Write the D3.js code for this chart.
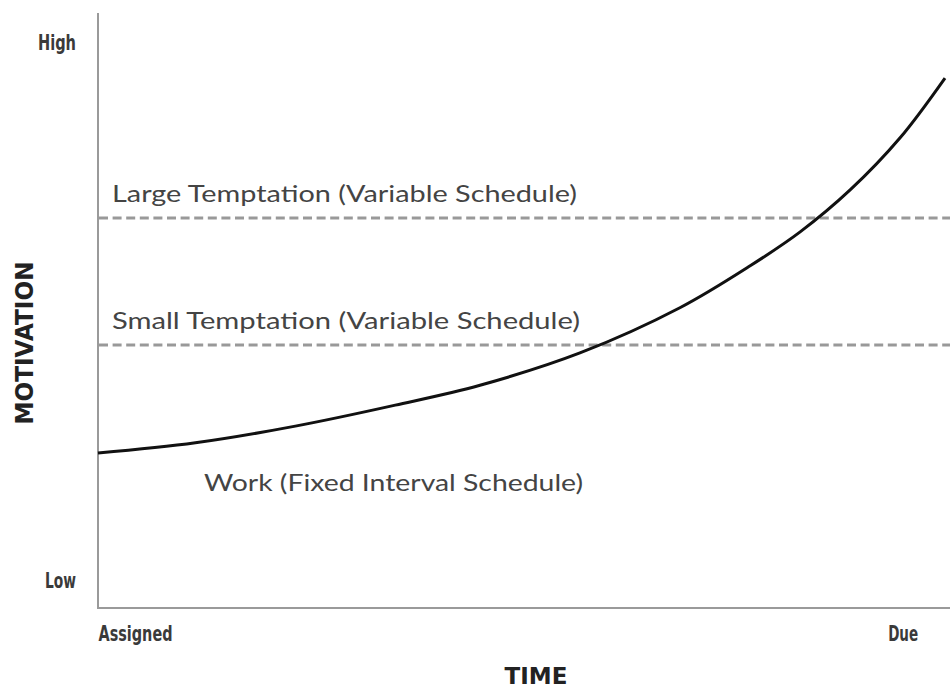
<!DOCTYPE html>
<html><head><meta charset="utf-8">
<script src="https://cdn.jsdelivr.net/npm/d3@7"></script>
<style>
html,body{margin:0;padding:0;background:#fff;}
svg{display:block;}
</style></head>
<body>
<svg id="chart" width="950" height="690"></svg>
<script>
// ---- data ----
const workTime = [0, 0.115, 0.233, 0.351, 0.451, 0.569, 0.687, 0.770, 0.829, 0.888, 0.947, 1];
const workMotivation = [0.236, 0.255, 0.286, 0.325, 0.362, 0.422, 0.506, 0.584, 0.647, 0.725, 0.822, 0.933];
const temptationNames = ["Large Temptation (Variable Schedule)", "Small Temptation (Variable Schedule)"];
const temptationLevels = [0.673, 0.437];
const temptationSpan = [0, 1.006];
const workLabel = "Work (Fixed Interval Schedule)";
const yTickValues = [0, 1];
const yTickLabels = ["Low", "High"];
const xTickValues = [0, 0.95];
const xTickLabels = ["Assigned", "Due"];
const xTitle = "TIME";
const yTitle = "MOTIVATION";

// ---- drawing ----
const svg = d3.select("#chart");
const x = d3.scaleLinear().domain([0, 1]).range([98, 945]);
const y = d3.scaleLinear().domain([0, 1]).range([580, 42]);
const axisColor = "#9a9a9a";
const tickFont = "'DejaVu Sans Condensed', 'DejaVu Sans', sans-serif";
const labelFont = "Lato, 'Open Sans', sans-serif";
const yTickWidths = [31, 38];
const xTickWidths = [74, 30];

// y tick labels
const yAxis = d3.axisLeft(y).tickValues(yTickValues)
  .tickFormat((d, i) => yTickLabels[i]).tickSize(0).tickPadding(22);
const gy = svg.append("g").attr("transform", `translate(${x(0)},0)`).call(yAxis);
gy.select(".domain").remove();
gy.selectAll("text").attr("font-family", tickFont).attr("font-weight", "bold")
  .attr("font-size", 22).attr("fill", "#3a3a3a").attr("dy", "0.36em")
  .attr("textLength", (d, i) => yTickWidths[i]).attr("lengthAdjust", "spacingAndGlyphs");

// x tick labels
const xAxis = d3.axisBottom(x).tickValues(xTickValues)
  .tickFormat((d, i) => xTickLabels[i]).tickSize(0).tickPadding(17);
const gx = svg.append("g").attr("transform", `translate(0,${y(-0.052)})`).call(xAxis);
gx.select(".domain").remove();
gx.selectAll("text").attr("font-family", tickFont).attr("font-weight", "bold")
  .attr("font-size", 22).attr("fill", "#3a3a3a")
  .attr("text-anchor", (d, i) => i === 0 ? "start" : "middle")
  .attr("textLength", (d, i) => xTickWidths[i]).attr("lengthAdjust", "spacingAndGlyphs");

// axis lines (L shape)
svg.append("path")
  .attr("d", d3.line()([[x(0), y(1.054)], [x(0), y(-0.052)], [x(1.006), y(-0.052)]]))
  .attr("fill", "none").attr("stroke", axisColor).attr("stroke-width", 2);

// temptation dashed lines + labels
temptationLevels.forEach((v, i) => {
  svg.append("line")
    .attr("x1", x(temptationSpan[0]) + 1).attr("x2", x(temptationSpan[1]))
    .attr("y1", y(v)).attr("y2", y(v))
    .attr("stroke", "#999").attr("stroke-width", 3).attr("stroke-dasharray", "9,4.6");
  svg.append("text")
    .attr("x", x(0) + 14).attr("y", y(v) - 16)
    .attr("font-family", labelFont).attr("font-size", 23).attr("fill", "#444")
    .attr("textLength", i === 0 ? 465 : 468).attr("lengthAdjust", "spacingAndGlyphs")
    .text(temptationNames[i]);
});

// work curve
const pts = workTime.map((t, i) => [t, workMotivation[i]]);
svg.append("path")
  .datum(pts)
  .attr("d", d3.line().x(d => x(d[0])).y(d => y(d[1])).curve(d3.curveCatmullRom.alpha(0.5)))
  .attr("fill", "none").attr("stroke", "#111").attr("stroke-width", 3);

svg.append("text")
  .attr("x", 204).attr("y", 491)
  .attr("font-family", labelFont).attr("font-size", 23).attr("fill", "#444")
  .attr("textLength", 379).attr("lengthAdjust", "spacingAndGlyphs")
  .text(workLabel);

// titles
svg.append("text").attr("x", 536).attr("y", 684).attr("text-anchor", "middle")
  .attr("font-family", "'DejaVu Sans', sans-serif").attr("font-weight", "bold")
  .attr("font-size", 23).attr("fill", "#222").text(xTitle);
svg.append("text").attr("transform", "translate(33,343) rotate(-90)")
  .attr("text-anchor", "middle")
  .attr("font-family", "'DejaVu Sans', sans-serif").attr("font-weight", "bold")
  .attr("font-size", 24).attr("fill", "#222")
  .attr("textLength", 163).attr("lengthAdjust", "spacingAndGlyphs")
  .text(yTitle);
</script>
</body></html>
